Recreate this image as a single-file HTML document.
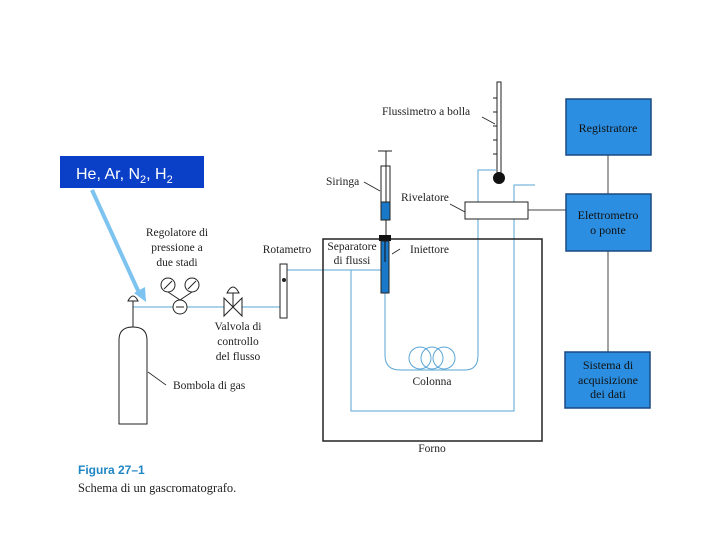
<!DOCTYPE html>
<html><head><style>body{margin:0;background:#fff}svg{display:block}</style></head><body>
<svg width="720" height="540" viewBox="0 0 720 540" xmlns="http://www.w3.org/2000/svg" font-family="Liberation Serif, serif" font-size="11.5" fill="#222">
<rect width="720" height="540" fill="#fff"/>
<!-- label -->
<rect x="60" y="156" width="144" height="32" fill="#0a3fc8"/>
<text x="76" y="179" fill="#fff" font-family="Liberation Sans, sans-serif" font-size="16">He, Ar, N<tspan font-size="11" dy="4">2</tspan><tspan dy="-4">, H</tspan><tspan font-size="11" dy="4">2</tspan></text>
<line x1="92" y1="190" x2="140" y2="295" stroke="#7cc3ef" stroke-width="4"/>
<polygon points="134,293 146,302 145,287" fill="#7cc3ef"/>
<!-- gas line -->
<g stroke="#5aa6d6" stroke-width="1" fill="none">
<line x1="133" y1="307" x2="280" y2="307"/>
<line x1="287" y1="270" x2="385" y2="270"/>
<polyline points="351,270 351,411 514,411 514,185 535,185"/>
<path d="M385,293 V355 Q385,370 400,370 H465 Q478,370 478,355 V170 H496"/>
<circle cx="420" cy="358" r="11"/><circle cx="432" cy="358" r="11"/><circle cx="444" cy="358" r="11"/>
</g>
<!-- cylinder -->
<path d="M119,424 V340 Q119,327 133,327 Q147,327 147,340 V424 Z" fill="#fff" stroke="#222"/>
<line x1="133" y1="327" x2="133" y2="301" stroke="#222"/>
<path d="M128,301 Q133,291 138,301 Z" fill="none" stroke="#222"/>
<line x1="148" y1="372" x2="166" y2="385" stroke="#222" stroke-width=".8"/>
<!-- regulator -->
<g stroke="#222" fill="#fff">
<line x1="168" y1="292" x2="180" y2="300"/><line x1="192" y1="292" x2="180" y2="300"/>
<circle cx="168" cy="285" r="7"/><circle cx="192" cy="285" r="7"/>
<circle cx="180" cy="307" r="7"/>
<line x1="164" y1="289" x2="172" y2="281"/><line x1="188" y1="289" x2="196" y2="281"/>
<line x1="176" y1="307" x2="184" y2="307"/>
<!-- valve -->
<path d="M224,298 L242,316 V298 L224,316 Z"/>
<line x1="233" y1="307" x2="233" y2="293"/>
<path d="M227,293 Q233,281 239,293 Z"/>
<!-- rotameter -->
<rect x="280" y="264" width="7" height="54"/>
</g>
<circle cx="284" cy="280" r="2" fill="#222"/>
<!-- oven -->
<rect x="323" y="239" width="219" height="202" fill="none" stroke="#222" stroke-width="1.5"/>
<!-- syringe -->
<line x1="378" y1="151" x2="392" y2="151" stroke="#222"/>
<line x1="386" y1="151" x2="386" y2="235" stroke="#222"/>
<rect x="381" y="166" width="9" height="54" fill="none" stroke="#222"/>
<rect x="381" y="202" width="9" height="18" fill="#1a78c8" stroke="#222"/>
<rect x="379" y="235" width="12" height="6" fill="#111"/>
<rect x="381" y="241" width="8" height="52" fill="#1a78c8" stroke="#222"/>
<line x1="385" y1="241" x2="385" y2="262" stroke="#111"/>
<line x1="364" y1="182" x2="380" y2="191" stroke="#222" stroke-width=".8"/>
<line x1="392" y1="254" x2="400" y2="249" stroke="#222" stroke-width=".8"/>
<!-- flowmeter -->
<rect x="497" y="82" width="4" height="92" fill="#fff" stroke="#222"/>
<g stroke="#222"><line x1="493" y1="98" x2="497" y2="98"/><line x1="493" y1="112" x2="497" y2="112"/><line x1="493" y1="126" x2="497" y2="126"/><line x1="493" y1="140" x2="497" y2="140"/><line x1="493" y1="154" x2="497" y2="154"/></g>
<circle cx="499" cy="178" r="6" fill="#111"/>
<line x1="482" y1="117" x2="495" y2="124" stroke="#222" stroke-width=".8"/>
<!-- detector -->
<rect x="465" y="202" width="63" height="17" fill="#fff" stroke="#222"/>
<line x1="450" y1="204" x2="465" y2="212" stroke="#222" stroke-width=".8"/>
<g stroke="#444"><line x1="528" y1="210" x2="566" y2="210"/><line x1="608" y1="155" x2="608" y2="194"/><line x1="608" y1="251" x2="608" y2="352"/></g>
<!-- blue boxes -->
<g fill="#2b8ee0" stroke="#1a4a80" stroke-width="1.5">
<rect x="566" y="99" width="85" height="56"/>
<rect x="566" y="194" width="85" height="57"/>
<rect x="565" y="352" width="85" height="56"/>
</g>
<g text-anchor="middle" font-size="12" fill="#111">
<text x="608" y="132">Registratore</text>
<text x="608" y="219">Elettrometro</text><text x="608" y="234">o ponte</text>
<text x="608" y="369">Sistema di</text><text x="608" y="384">acquisizione</text><text x="608" y="398">dei dati</text>
</g>
<!-- labels -->
<g text-anchor="middle">
<text x="177" y="236">Regolatore di</text><text x="177" y="251">pressione a</text><text x="177" y="266">due stadi</text>
<text x="287" y="253">Rotametro</text>
<text x="238" y="330">Valvola di</text><text x="238" y="345">controllo</text><text x="238" y="360">del flusso</text>
<text x="352" y="250">Separatore</text><text x="352" y="264">di flussi</text>
<text x="432" y="385">Colonna</text>
<text x="432" y="452">Forno</text>
</g>
<text x="173" y="389">Bombola di gas</text>
<text x="326" y="185">Siringa</text>
<text x="401" y="201">Rivelatore</text>
<text x="410" y="253">Iniettore</text>
<text x="382" y="115">Flussimetro a bolla</text>
<text x="78" y="474" font-family="Liberation Sans, sans-serif" font-weight="bold" font-size="12" fill="#1f86c4">Figura 27–1</text>
<text x="78" y="492" font-size="12.5">Schema di un gascromatografo.</text>
</svg>
</body></html>
